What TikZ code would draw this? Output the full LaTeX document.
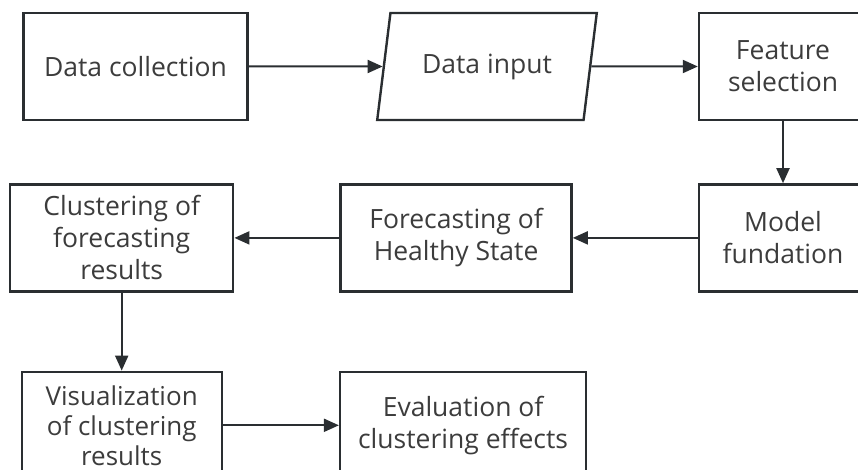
\documentclass[tikz,border=0pt]{standalone}
\usepackage{fontspec}
\setmainfont{Open Sans}
\usepackage{xcolor}
\usetikzlibrary{shapes.geometric, arrows.meta, positioning}

\definecolor{linegray}{HTML}{2A2E31}
\definecolor{textgray}{HTML}{3C3C3C}

\begin{document}
\begin{tikzpicture}[
    x=1pt, y=-1pt,
    box/.style={rectangle, draw=linegray, line width=2.4pt, minimum height=107pt, align=center,
        text=textgray, font=\fontsize{26.5}{32}\selectfont, inner sep=0pt},
    inputbox/.style={box, trapezium, trapezium left angle=71, trapezium right angle=109,
        trapezium stretches=true},
    arrow/.style={-{Stealth[length=15pt, width=13pt, inset=0pt]}, draw=linegray, line width=2pt}
]
    \clip (0,0) rectangle (858,470);

    % Top row
    \node[box, minimum width=224pt] (collect) at (135.5,66.5) {Data collection};
    \node[inputbox, minimum width=220pt] (input) at (487,66.5) {Data input\rule[-6pt]{0pt}{6pt}};
    \node[box, minimum width=168pt] (feature) at (783,66.5) {Feature\\selection};

    % Middle row
    \node[box, minimum width=168pt, below=62pt of feature] (model) {Model\\fundation};
    \node[box, minimum width=231pt, left=125pt of model] (forecast) {Forecasting of\\Healthy State};
    \node[box, minimum width=223pt, left=105pt of forecast] (cluster) {Clustering of\\forecasting\\results};

    % Bottom row
    \node[box, minimum width=200pt, below=78pt of cluster, font=\fontsize{26}{30}\selectfont] (visual)
        {Visualization\\of clustering\\results\rule{0pt}{18pt}};
    \node[box, minimum width=246pt, right=116pt of visual] (evaluate) {Evaluation of\\clustering effects};

    % Arrows
    \draw[arrow] (collect) -- (input);
    \draw[arrow] (input) -- (feature);
    \draw[arrow] (feature) -- (model);
    \draw[arrow] (model) -- (forecast);
    \draw[arrow] (forecast) -- (cluster);
    \draw[arrow] (cluster) -- (visual);
    \draw[arrow] (visual) -- (evaluate);

\end{tikzpicture}
\end{document}
